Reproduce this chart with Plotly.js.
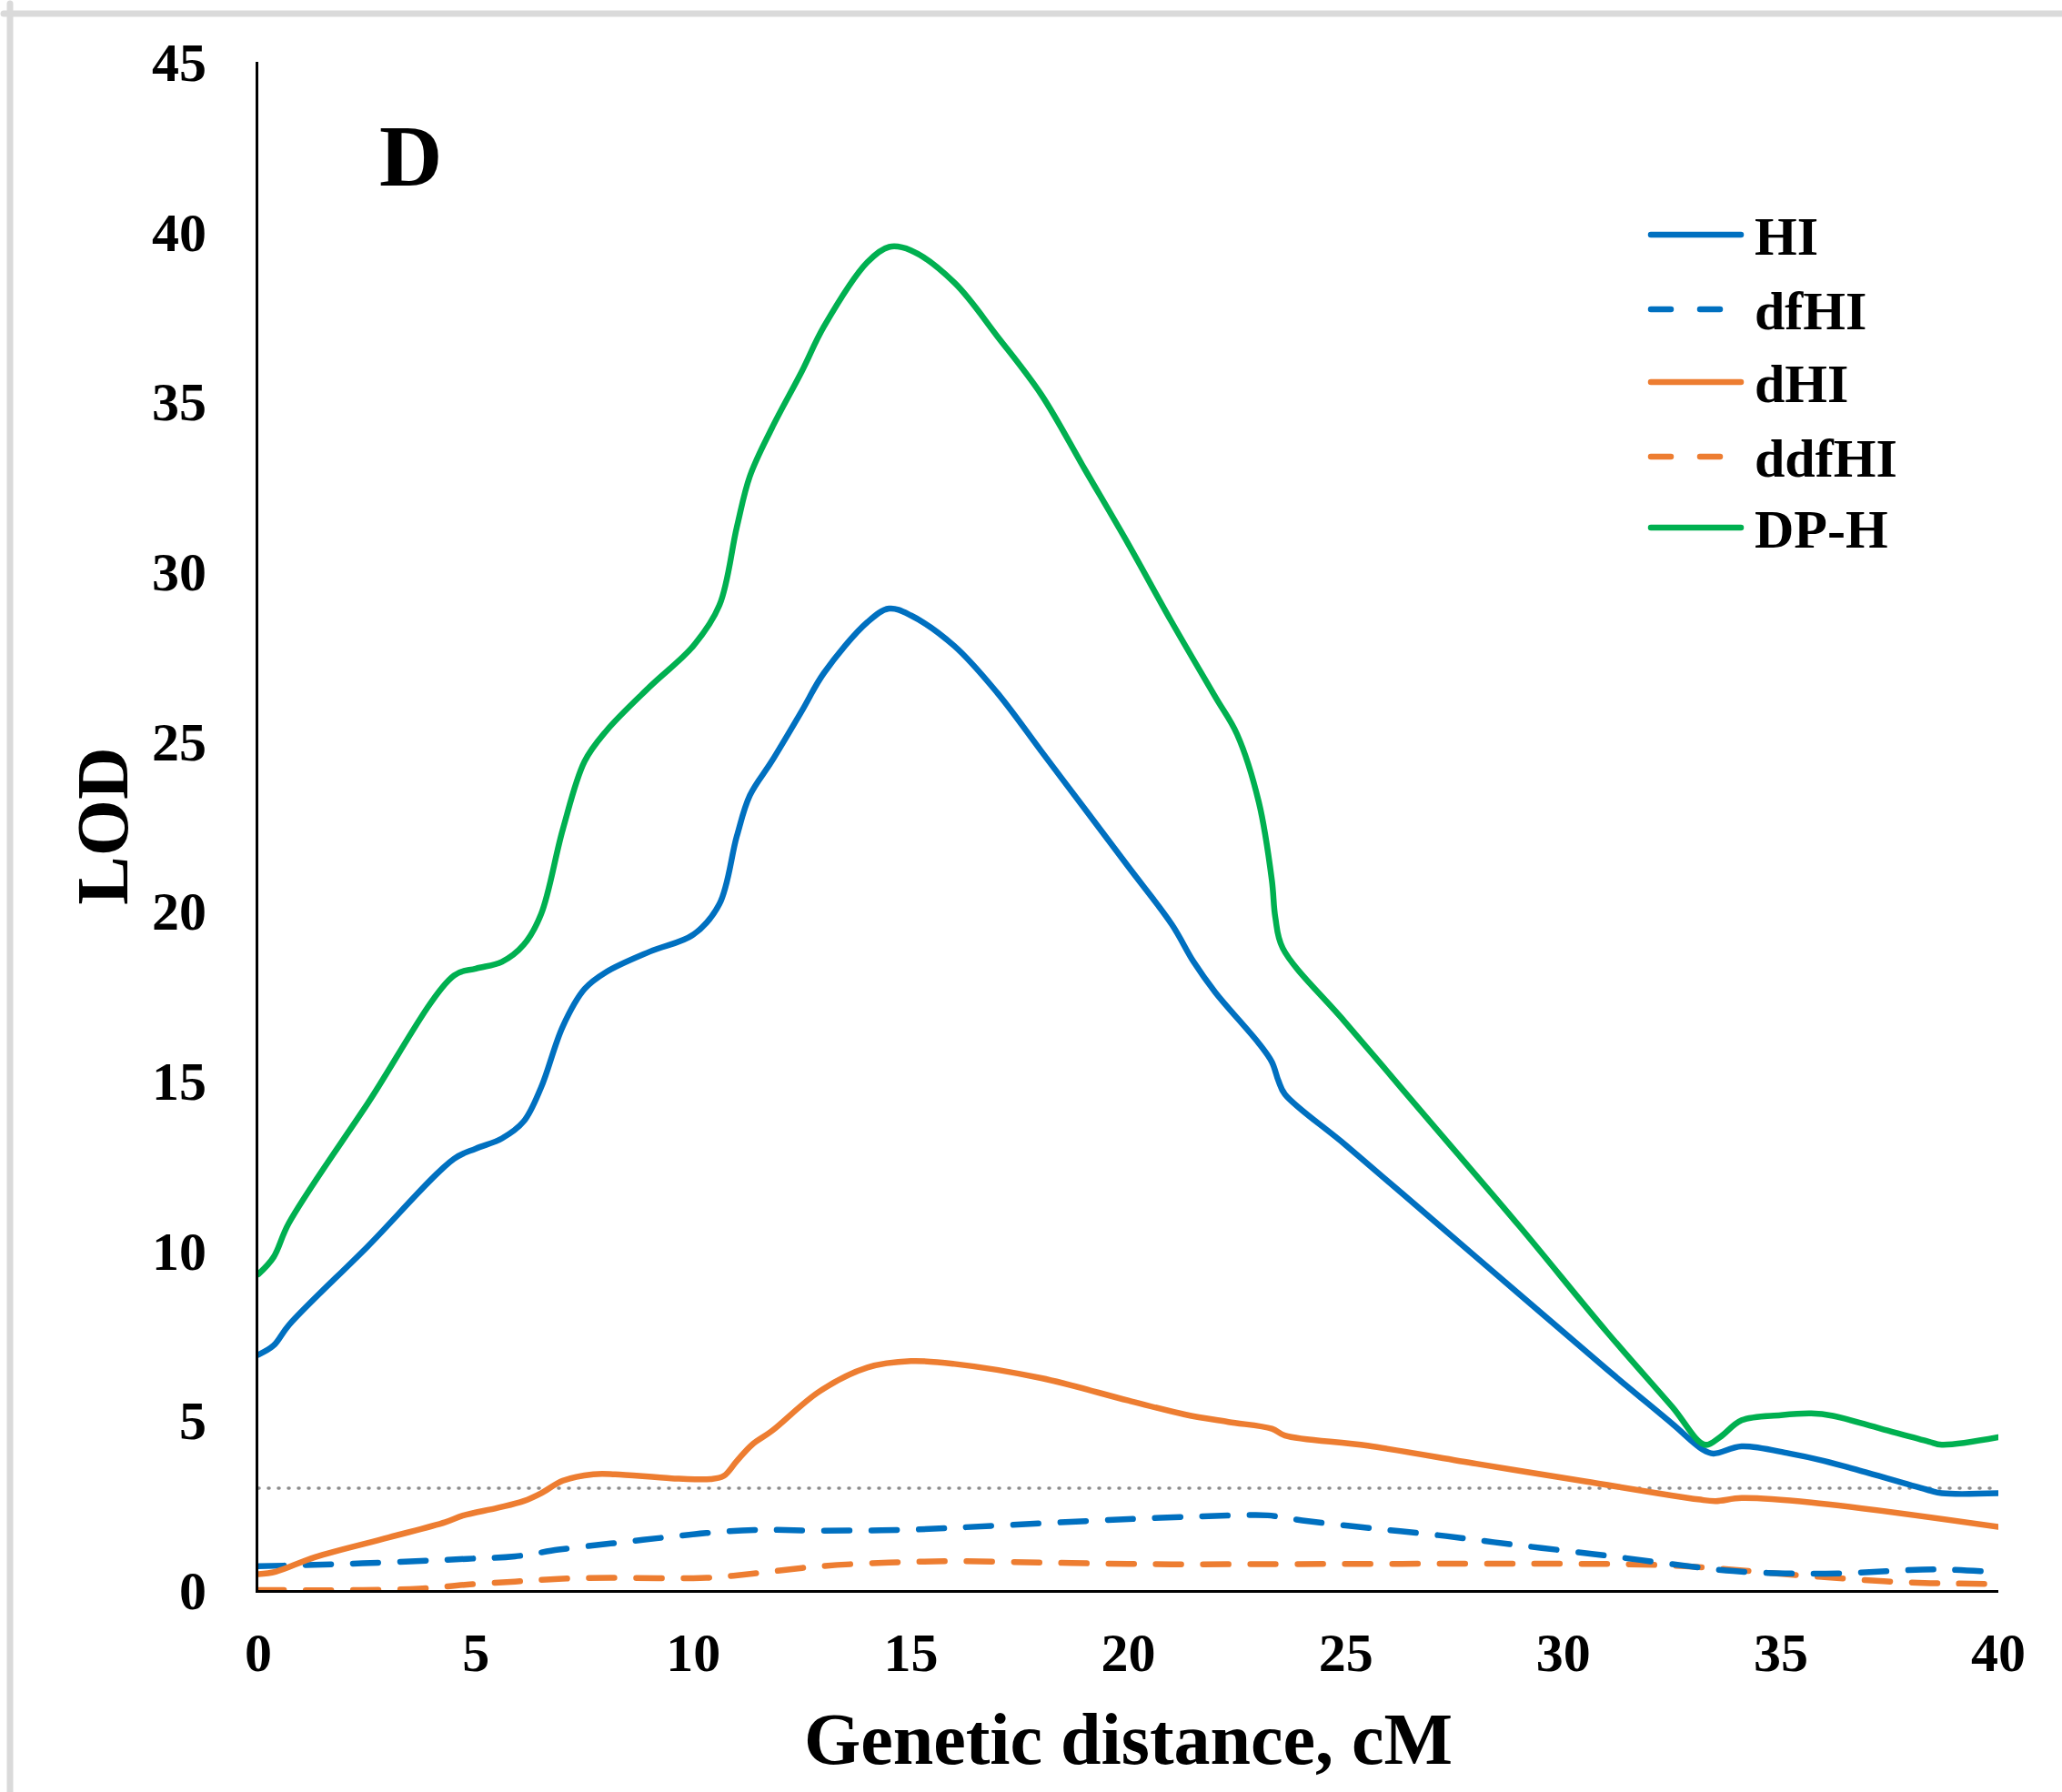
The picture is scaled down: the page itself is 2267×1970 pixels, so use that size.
<!DOCTYPE html>
<html><head><meta charset="utf-8">
<script src="https://cdn.plot.ly/plotly-3.0.1.min.js"></script>
<style>
html,body{margin:0;padding:0;background:#fff;}
#chart .scatterlayer .js-line{stroke-linecap:round;stroke-linejoin:round;}
#chart .shapelayer path{stroke-linecap:round;}
</style></head>
<body><div id="chart" style="width:2267px;height:1970px;"></div>
<script>
// ---- data ----
const seriesNames = ['HI', 'dfHI', 'dHI', 'ddfHI', 'DP-H'];

const xHI = [0, 0.35, 0.7, 2.5, 4.5, 5.0, 5.6, 6.1, 6.5, 7.0, 7.5, 8.0, 9.0, 10.0, 10.6, 11.0, 11.3, 11.8, 12.5, 13.0, 14.0, 14.5, 15.0, 16.0, 17.0, 18.0, 19.0, 20.0, 21.0, 21.5, 22.0, 23.0, 23.3, 23.45, 23.6, 25, 27, 29, 31, 32.5, 33.2, 33.45, 34.1, 35.2, 36.0, 37.0, 38.4, 38.7, 40];
const yHI = [6.93, 7.2, 7.8, 10.1, 12.7, 13.0, 13.3, 13.8, 14.8, 16.6, 17.7, 18.2, 18.8, 19.3, 20.2, 22.2, 23.4, 24.4, 25.9, 27.0, 28.5, 28.9, 28.7, 27.8, 26.4, 24.7, 23.0, 21.3, 19.6, 18.5, 17.6, 16.1, 15.55, 15.0, 14.6, 13.1, 10.9, 8.7, 6.5, 4.9, 4.14, 4.02, 4.23, 4.02, 3.8, 3.45, 2.94, 2.85, 2.85];

const xDFHI = [0, 2.4, 4.8, 5.9, 6.9, 8.1, 9.2, 10.3, 11.4, 13, 15, 17, 20, 22.5, 23.2, 24, 25.6, 27.3, 28.4, 29.5, 30.7, 31.8, 32.9, 33.9, 35.1, 36.3, 37.5, 38.6, 40];
const yDFHI = [0.70, 0.79, 0.92, 0.99, 1.19, 1.37, 1.53, 1.68, 1.77, 1.75, 1.78, 1.9, 2.09, 2.2, 2.2, 2.05, 1.82, 1.59, 1.41, 1.24, 1.06, 0.88, 0.70, 0.56, 0.49, 0.49, 0.56, 0.61, 0.52];

const xDHI = [0, 0.4, 1.3, 3.0, 4.3, 4.7, 5.5, 6.1, 6.5, 7.0, 7.7, 8.2, 9.5, 10.4, 10.7, 11.0, 11.35, 11.8, 12.9, 14.0, 15.0, 16.0, 18.0, 20.0, 21.3, 22.3, 23.3, 23.6, 25.5, 28, 30.5, 33.1, 33.5, 34.1, 35.7, 40];
const yDHI = [0.47, 0.54, 0.97, 1.55, 2.0, 2.19, 2.42, 2.62, 2.85, 3.22, 3.41, 3.41, 3.29, 3.27, 3.36, 3.8, 4.28, 4.68, 5.85, 6.55, 6.74, 6.66, 6.24, 5.58, 5.17, 4.95, 4.75, 4.55, 4.25, 3.72, 3.2, 2.67, 2.62, 2.71, 2.58, 1.86];

const xDDFHI = [0, 2.4, 3.7, 4.8, 5.9, 6.9, 8.1, 10.3, 11.4, 12.9, 14.5, 16, 18, 20, 21, 31.5, 32.8, 33.8, 34.9, 36.0, 37.1, 38.3, 40];
const yDDFHI = [0, 0, 0.04, 0.16, 0.25, 0.33, 0.36, 0.36, 0.49, 0.7, 0.81, 0.85, 0.81, 0.77, 0.76, 0.76, 0.70, 0.61, 0.49, 0.38, 0.28, 0.21, 0.18];

const xDPH = [0, 0.35, 0.7, 2.5, 4.5, 5.0, 5.6, 6.1, 6.5, 7.0, 7.5, 8.0, 9.0, 10.0, 10.6, 11.0, 11.3, 11.8, 12.5, 13.0, 14.0, 14.5, 15.0, 16.0, 17.0, 18.0, 19.0, 20.0, 21.0, 22.0, 22.5, 23.0, 23.3, 23.38, 23.55, 25, 27, 29, 31, 32.5, 33.25, 33.6, 34.1, 35.0, 35.7, 36.2, 37.3, 38.4, 38.7, 40];
const yDPH = [9.3, 9.8, 10.8, 14.3, 18.1, 18.3, 18.5, 19.0, 19.9, 22.4, 24.4, 25.3, 26.6, 27.8, 29.0, 31.3, 32.8, 34.2, 35.9, 37.2, 39.1, 39.55, 39.45, 38.5, 36.9, 35.2, 33.0, 30.8, 28.5, 26.3, 25.2, 23.2, 20.9, 19.8, 18.9, 16.7, 13.7, 10.7, 7.6, 5.4, 4.28, 4.5, 5.0, 5.15, 5.2, 5.13, 4.75, 4.37, 4.28, 4.5];

const thresholdX = [0, 40];
const thresholdY = [3, 3];

const xTicks = [0, 5, 10, 15, 20, 25, 30, 35, 40];
const yTicks = [0, 5, 10, 15, 20, 25, 30, 35, 40, 45];

// ---- styling ----
const W = 2267, H = 1970;
const M = {l: 284, r: 70, t: 68, b: 222};
const PW = W - M.l - M.r, PH = H - M.t - M.b;
const px2x = p => (p - M.l) / PW;
const py2y = p => (H - M.b - p) / PH;
const FONT = 'Liberation Serif, Times New Roman, serif';
const BLUE = '#0070C0', ORANGE = '#ED7D31', GREEN = '#00B050';
const DASH = '28px,24px';
const LW = 6.5;

const styles = [
  {c: BLUE, d: 'solid'},
  {c: BLUE, d: DASH},
  {c: ORANGE, d: 'solid'},
  {c: ORANGE, d: DASH},
  {c: GREEN, d: 'solid'}
];
const xs = [xHI, xDFHI, xDHI, xDDFHI, xDPH];
const ys = [yHI, yDFHI, yDHI, yDDFHI, yDPH];

const traces = [{
  x: thresholdX, y: thresholdY, type: 'scatter', mode: 'lines',
  line: {color: '#8c8c8c', width: 3.5, dash: '1px,10px'},
  showlegend: false, hoverinfo: 'skip', name: 'LOD threshold'
}];
// draw order: dashed first, then solids, green on top
[3, 1, 2, 0, 4].forEach(i => {
  traces.push({
    x: xs[i], y: ys[i], type: 'scatter', mode: 'lines', name: seriesNames[i],
    line: {color: styles[i].c, width: LW, dash: styles[i].d, shape: 'spline', smoothing: 1.0},
    showlegend: false
  });
});

// custom legend (long sample lines like the reference)
const legY = [258, 340, 420, 502, 580];
const legX0 = 1815, legX1 = 1914, legDashEnd = 1891, legTextX = 1927;
const shapes = [
  // grey frame of the source image
  {type: 'line', xref: 'paper', yref: 'paper', x0: px2x(4), x1: px2x(W + 10), y0: py2y(15), y1: py2y(15), line: {color: '#dadada', width: 7}},
  {type: 'line', xref: 'paper', yref: 'paper', x0: px2x(11), x1: px2x(11), y0: py2y(4), y1: py2y(H + 10), line: {color: '#dadada', width: 7}}
];
const annotations = [
  {xref: 'paper', yref: 'paper', x: px2x(451), y: py2y(171), text: '<b>D</b>', showarrow: false,
   xanchor: 'center', yanchor: 'middle', font: {family: FONT, size: 96, color: '#000'}}
];
seriesNames.forEach((n, i) => {
  const dashed = styles[i].d !== 'solid';
  shapes.push({type: 'line', xref: 'paper', yref: 'paper',
    x0: px2x(legX0), x1: px2x(dashed ? legDashEnd : legX1), y0: py2y(legY[i]), y1: py2y(legY[i]),
    line: {color: styles[i].c, width: LW, dash: dashed ? '22px,32px' : 'solid'}});
  annotations.push({xref: 'paper', yref: 'paper', x: px2x(legTextX), y: py2y(legY[i] + 2), text: '<b>' + n + '</b>',
    showarrow: false, xanchor: 'left', yanchor: 'middle', font: {family: FONT, size: 60, color: '#000'}});
});

const layout = {
  width: W, height: H,
  margin: M,
  paper_bgcolor: '#fff', plot_bgcolor: '#fff',
  font: {family: FONT, color: '#000'},
  showlegend: false,
  xaxis: {
    range: [0, 40], tickvals: xTicks, ticktext: xTicks.map(String),
    showgrid: false, zeroline: false, showline: true, linecolor: '#000', linewidth: 3,
    ticks: '', ticklabelstandoff: 14,
    tickfont: {family: FONT, size: 60, weight: 'bold', color: '#000'},
    title: {text: '<b>Genetic distance, cM</b>', font: {family: FONT, size: 80, color: '#000'}, standoff: 34}
  },
  yaxis: {
    range: [0, 45], tickvals: yTicks, ticktext: yTicks.map(String),
    showgrid: false, zeroline: false, showline: true, linecolor: '#000', linewidth: 3,
    ticks: '', ticklabelstandoff: 42,
    tickfont: {family: FONT, size: 60, weight: 'bold', color: '#000'},
    title: {text: '<b>LOD</b>', font: {family: FONT, size: 80, color: '#000'}, standoff: 1}
  },
  shapes: shapes,
  annotations: annotations
};

Plotly.newPlot('chart', traces, layout, {displayModeBar: false, staticPlot: true});
</script></body></html>
